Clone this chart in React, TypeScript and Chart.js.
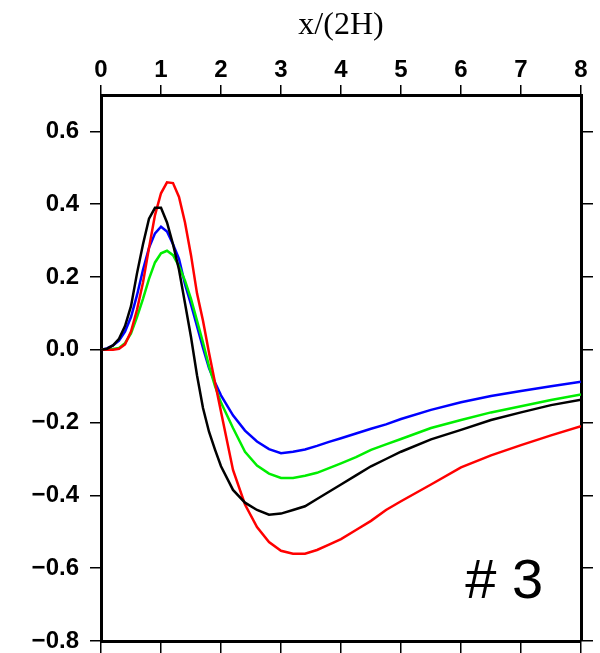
import React, { useEffect, useRef } from "react";
import { Chart, registerables } from "chart.js";

Chart.register(...registerables);

const xValues = [
  0, 0.1, 0.2, 0.3, 0.4, 0.5, 0.6, 0.7, 0.8, 0.9, 1.0, 1.1, 1.2, 1.3, 1.4, 1.5, 1.6, 1.7, 1.8, 1.9, 2.0,
  2.2, 2.4, 2.6, 2.8, 3.0, 3.2, 3.4, 3.6, 3.8, 4.0, 4.25, 4.5, 4.75, 5.0, 5.5, 6.0, 6.5, 7.0, 7.5, 8.0,
];

const redSeries = [
  0, 0, 0, 0.003, 0.015, 0.05, 0.11, 0.185, 0.28, 0.37, 0.43, 0.46, 0.458, 0.42, 0.35, 0.26, 0.155, 0.08, -0.008, -0.09, -0.17,
  -0.33, -0.425, -0.487, -0.528, -0.552, -0.56, -0.56, -0.55, -0.535, -0.52, -0.495, -0.47, -0.44, -0.416, -0.37, -0.323, -0.29, -0.262, -0.235, -0.21,
];

const blackSeries = [
  0, 0.003, 0.012, 0.03, 0.065, 0.12, 0.21, 0.29, 0.36, 0.39, 0.39, 0.35, 0.29, 0.22, 0.128, 0.035, -0.07, -0.16, -0.225, -0.274, -0.32,
  -0.385, -0.42, -0.44, -0.453, -0.45, -0.44, -0.43, -0.41, -0.39, -0.37, -0.345, -0.32, -0.3, -0.28, -0.246, -0.22, -0.193, -0.172, -0.152, -0.137,
];

const greenSeries = [
  0, 0, 0.002, 0.005, 0.018, 0.045, 0.09, 0.14, 0.195, 0.24, 0.265, 0.272, 0.26, 0.23, 0.19, 0.14, 0.08, 0.02, -0.045, -0.1, -0.145,
  -0.215, -0.28, -0.318, -0.34, -0.352, -0.352, -0.346, -0.338, -0.325, -0.312, -0.295, -0.275, -0.26, -0.245, -0.215, -0.193, -0.172, -0.155, -0.138, -0.123,
];

const blueSeries = [
  0, 0.004, 0.012, 0.025, 0.05, 0.09, 0.15, 0.22, 0.28, 0.32, 0.338, 0.325, 0.29, 0.25, 0.18, 0.125, 0.065, 0.005, -0.05, -0.09, -0.125,
  -0.18, -0.222, -0.252, -0.273, -0.284, -0.28, -0.274, -0.264, -0.253, -0.243, -0.23, -0.217, -0.205, -0.19, -0.165, -0.144, -0.127, -0.113, -0.1, -0.088,
];

const xTicks = [0, 1, 2, 3, 4, 5, 6, 7, 8];
const yTicks = [-0.8, -0.6, -0.4, -0.2, 0.0, 0.2, 0.4, 0.6];
const xTitle = "x/(2H)";
const panelLabel = "# 3";
const panelLabelPos = [6.07, -0.682];

const seriesList = [
  { name: "black", color: "#000000", values: blackSeries },
  { name: "red", color: "#ff0000", values: redSeries },
  { name: "green", color: "#00ee00", values: greenSeries },
  { name: "blue", color: "#0000ff", values: blueSeries },
];

const fmt = (v: number) => (v < 0 ? "\u2212" : "") + Math.abs(v).toFixed(1);

export default function App() {
  const ref = useRef<HTMLCanvasElement | null>(null);

  useEffect(() => {
    document.body.style.margin = "0";
    document.body.style.overflow = "hidden";
    if (!ref.current) return;
    const tickFont = { family: "Liberation Sans", size: 24, weight: "bold" };
    const labelPlugin = {
      id: "panelLabel",
      afterDatasetsDraw(chart: any) {
        const { ctx } = chart;
        const xs = chart.scales.x;
        const ys = chart.scales.y;
        ctx.save();
        ctx.font = '56px "Liberation Sans"';
        ctx.fillStyle = "#000";
        ctx.textAlign = "left";
        ctx.textBaseline = "alphabetic";
        ctx.fillText(panelLabel, xs.getPixelForValue(panelLabelPos[0]), ys.getPixelForValue(panelLabelPos[1]));
        ctx.restore();
      },
    };
    const zeroPad = (s: any) => {
      s.paddingTop = 0;
      s.paddingBottom = 0;
      s.paddingLeft = 0;
      s.paddingRight = 0;
    };
    const chart = new Chart(ref.current, {
      type: "line",
      data: {
        datasets: seriesList.map((s) => ({
          label: s.name,
          data: xValues.map((x, i) => ({ x, y: s.values[i] })),
          borderColor: s.color,
          backgroundColor: s.color,
          borderWidth: 2.5,
          pointRadius: 0,
          tension: 0,
          fill: false,
          xAxisID: "x",
          yAxisID: "y",
        })),
      },
      options: {
        responsive: false,
        animation: false,
        devicePixelRatio: 1,
        layout: { padding: 0 },
        plugins: { legend: { display: false }, tooltip: { enabled: false } },
        scales: {
          x: {
            type: "linear",
            position: "top",
            min: 0,
            max: 8,
            afterBuildTicks: (s: any) => {
              s.ticks = xTicks.map((v) => ({ value: v }));
            },
            afterFit: (s: any) => {
              s.height = 95;
              zeroPad(s);
            },
            ticks: { font: tickFont, color: "#000", padding: 0, maxRotation: 0, autoSkip: false },
            grid: { drawOnChartArea: false, drawTicks: true, tickLength: 10, color: "#000", lineWidth: 1.5 },
            border: { display: true, color: "#000", width: 3 },
            title: {
              display: true,
              text: xTitle,
              color: "#000",
              font: { family: "Liberation Serif", size: 32 },
              padding: { top: 6, bottom: 0 },
            },
          },
          x2: {
            type: "linear",
            position: "bottom",
            min: 0,
            max: 8,
            afterBuildTicks: (s: any) => {
              s.ticks = xTicks.map((v) => ({ value: v }));
            },
            afterFit: (s: any) => {
              s.height = 12;
              zeroPad(s);
            },
            ticks: { display: false },
            grid: { drawOnChartArea: false, drawTicks: true, tickLength: 12, color: "#000", lineWidth: 1.5 },
            border: { display: true, color: "#000", width: 3 },
          },
          y: {
            type: "linear",
            position: "left",
            min: -0.8,
            max: 0.7,
            afterBuildTicks: (s: any) => {
              s.ticks = yTicks.map((v) => ({ value: v }));
            },
            afterFit: (s: any) => {
              s.width = 101;
              zeroPad(s);
            },
            ticks: { font: tickFont, color: "#000", padding: 11, callback: (v: any) => fmt(Number(v)) },
            grid: { drawOnChartArea: false, drawTicks: true, tickLength: 11, color: "#000", lineWidth: 1.5 },
            border: { display: true, color: "#000", width: 3 },
          },
          y2: {
            type: "linear",
            position: "right",
            min: -0.8,
            max: 0.7,
            afterBuildTicks: (s: any) => {
              s.ticks = yTicks.map((v) => ({ value: v }));
            },
            afterFit: (s: any) => {
              s.width = 19;
              zeroPad(s);
            },
            ticks: { display: false },
            grid: { drawOnChartArea: false, drawTicks: true, tickLength: 12, color: "#000", lineWidth: 1.5 },
            border: { display: true, color: "#000", width: 3 },
          },
        },
      } as any,
      plugins: [labelPlugin],
    });
    return () => chart.destroy();
  }, []);

  return (
    <div style={{ width: 600, height: 653 }}>
      <canvas ref={ref} width={600} height={653} style={{ display: "block" }} />
    </div>
  );
}
